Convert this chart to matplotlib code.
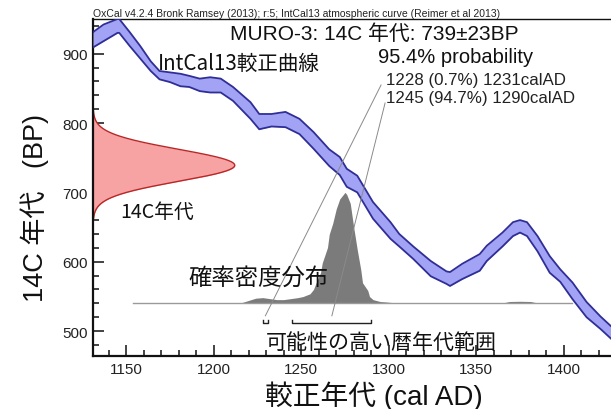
import numpy as np
import matplotlib
matplotlib.use("Agg")
import matplotlib.pyplot as plt
from matplotlib.ticker import MultipleLocator

# IntCal13 calibration curve: calendar year (AD), 14C age (BP) and 1-sigma
cal_years = [1131, 1137, 1145, 1146, 1152, 1158, 1164, 1169, 1175, 1181, 1186,
             1192, 1198, 1204, 1211, 1221, 1226, 1233, 1241, 1249, 1257, 1266,
             1272, 1276, 1282, 1291, 1301, 1306, 1314, 1324, 1333, 1335, 1342,
             1352, 1356, 1365, 1371, 1375, 1379, 1385, 1392, 1398, 1405, 1413,
             1421, 1427, 1431]
cal_bp = [920, 930, 940, 940, 921, 902, 882, 869, 866, 862, 860,
          855, 855, 854, 842, 818, 802, 804, 805, 795, 775, 750,
          738, 721, 712, 674, 645, 631, 613, 590, 577, 575, 586,
          599, 612, 632, 647, 651, 647, 626, 596, 580, 558, 531,
          512, 498, 490]
cal_sigma = [11, 12, 10, 10, 10, 9, 7, 6, 7, 9, 8,
             9, 11, 10, 10, 12, 11, 9, 11, 11, 12, 12,
             13, 13, 12, 12, 12, 9, 9, 11, 9, 10, 11,
             12, 11, 10, 10, 9, 10, 11, 12, 9, 12, 11,
             9, 9, 10]

# Measured radiocarbon age
sample_name = "MURO-3"
c14_age = 739
c14_err = 23

# Calibrated probability distribution (relative to its maximum)
pd_years = [1154, 1216, 1220, 1224, 1228, 1232, 1236, 1240, 1244, 1248, 1251,
            1255, 1257, 1259, 1261, 1262, 1265, 1266, 1268, 1270, 1272, 1274,
            1275, 1276, 1278, 1280, 1282, 1284, 1285, 1288, 1289, 1291, 1295,
            1299, 1302, 1366, 1369, 1375, 1381, 1384, 1405]
pd_prob = [0.0, 0.0, 0.02, 0.04, 0.045, 0.036, 0.027, 0.027, 0.036, 0.045, 0.055,
           0.08, 0.12, 0.20, 0.27, 0.36, 0.50, 0.62, 0.72, 0.85, 0.94, 0.98,
           1.0, 0.98, 0.90, 0.68, 0.48, 0.30, 0.18, 0.11, 0.055, 0.027, 0.01,
           0.005, 0.0, 0.0, 0.01, 0.012, 0.01, 0.0, 0.0]

# 95.4% highest-probability ranges
range_from = [1228, 1245]
range_to = [1231, 1290]
range_pct = [0.7, 94.7]

# Axis ticks
x_ticks = [1150, 1200, 1250, 1300, 1350, 1400]
y_ticks = [500, 600, 700, 800, 900]

JP = ["Noto Sans CJK JP", "DejaVu Sans"]
LAT = ["Liberation Sans", "Noto Sans CJK JP", "DejaVu Sans"]

fig = plt.figure(figsize=(6.11, 4.10), dpi=100)
W, H = 611, 410
ax = fig.add_axes([93 / W, 53 / H, 525 / W, 337 / H])
ax.set_xlim(1131, 1431)
ax.set_ylim(464, 950)

# calibration curve band
cy = np.array(cal_years, float)
cm = np.array(cal_bp, float)
cs = np.array(cal_sigma, float)
ax.fill_between(cy, cm - cs, cm + cs, color="#a3a3f5", lw=0, zorder=3)
ax.plot(cy, cm + cs, color="#2e2e96", lw=1.3, zorder=4)
ax.plot(cy, cm - cs, color="#2e2e96", lw=1.3, zorder=4)

# radiocarbon age distribution along the y axis
bp = np.linspace(c14_age - 3.6 * c14_err, c14_age + 3.6 * c14_err, 300)
dens = np.exp(-0.5 * ((bp - c14_age) / c14_err) ** 2)
x0 = ax.get_xlim()[0]
red_span = 81  # years of x-axis used by the peak
ax.fill_betweenx(bp, x0, x0 + red_span * dens, color="#f7a3a3", lw=0, zorder=2)
ax.plot(x0 + red_span * dens, bp, color="#b82828", lw=1.0, zorder=2)

# calibrated distribution above a baseline
base = 541
pd_height = 159
px = np.array(pd_years, float)
pp = np.array(pd_prob, float)
ax.fill_between(px, base, base + pd_height * pp, color="#7b7b7b", lw=0, zorder=2)
ax.plot([pd_years[0], pd_years[-1]], [base, base], color="#9a9a9a", lw=1.0, zorder=2)

# range brackets
br_y = 511
br_h = 5
for a, b in zip(range_from, range_to):
    ax.plot([a, a, b, b], [br_y + br_h, br_y, br_y, br_y + br_h],
            color="#222222", lw=1.0, zorder=5)

# leader lines from brackets to range text
txt_x = 1298.4
txt_y = [856.2, 830.2]
lead_end = [(1295.6, 854.8), (1297.9, 828.8)]
for a, b, (ex, ey) in zip(range_from, range_to, lead_end):
    ax.plot([(a + b) / 2, ex], [br_y + 11, ey], color="#8a8a8a", lw=0.7, zorder=5)

# text annotations
ax.text(1292, 921.9, f"{sample_name}: 14C 年代: {c14_age}±{c14_err}BP", ha="center",
        va="baseline", fontsize=15, family=LAT, color="#111111", zorder=6)
ax.text(1338, 888, "95.4% probability", ha="center", va="baseline",
        fontsize=14.5, family=LAT, color="#111111", zorder=6)
for ty, a, b, p in zip(txt_y, range_from, range_to, range_pct):
    ax.text(txt_x, ty, f"{a} ({p}%) {b}calAD", ha="left", va="baseline",
            fontsize=12.2, family=LAT, color="#222222", zorder=6)
ax.text(1168, 878, "IntCal13較正曲線", ha="left", va="baseline",
        fontsize=14.8, family=JP, color="#111111", zorder=6)
ax.text(1146.4, 664, "14C年代", ha="left", va="baseline",
        fontsize=14.2, family=JP, color="#111111", zorder=6)
ax.text(1185.3, 568, "確率密度分布", ha="left", va="baseline",
        fontsize=16.8, family=JP, color="#111111", zorder=6)
ax.text(1229.9, 475, "可能性の高い暦年代範囲", ha="left", va="baseline",
        fontsize=15.1, family=JP, color="#111111", zorder=6)

# axes styling
for s in ["left", "bottom", "top"]:
    ax.spines[s].set_color("#111111")
ax.spines["left"].set_linewidth(1.6)
ax.spines["bottom"].set_linewidth(1.6)
ax.spines["top"].set_linewidth(1.0)
ax.spines["right"].set_visible(False)
ax.set_xticks(x_ticks)
ax.set_yticks(y_ticks)
ax.xaxis.set_minor_locator(MultipleLocator(10))
ax.yaxis.set_minor_locator(MultipleLocator(20))
ax.tick_params(which="both", direction="in", top=False, right=False,
               color="#111111", width=1.1)
ax.tick_params(which="major", length=8, labelsize=11, pad=4)
ax.tick_params(which="minor", length=4)
for lab in ax.get_xticklabels() + ax.get_yticklabels():
    lab.set_family(LAT)
    lab.set_color("#222222")

ax.set_xlabel("較正年代 (cal AD)", family=LAT, fontsize=20, color="#111111")
ax.set_ylabel("14C 年代   (BP)", family=LAT, fontsize=19.5, color="#111111")
ax.xaxis.set_label_coords((374 - 93) / 525, -24 / 337, transform=ax.transAxes)
ax.yaxis.set_label_coords(-58 / 525, (357 - 208) / 337, transform=ax.transAxes)
ax.xaxis.label.set_va("top")
ax.yaxis.label.set_va("center")

fig.text(93 / W, (H - 17) / H,
         "OxCal v4.2.4 Bronk Ramsey (2013); r:5; IntCal13 atmospheric curve (Reimer et al 2013)",
         family=["Liberation Sans Narrow", "Liberation Sans"], fontsize=7.5,
         ha="left", va="baseline", color="#222222")

fig.savefig("out.png", dpi=100, facecolor="white")
